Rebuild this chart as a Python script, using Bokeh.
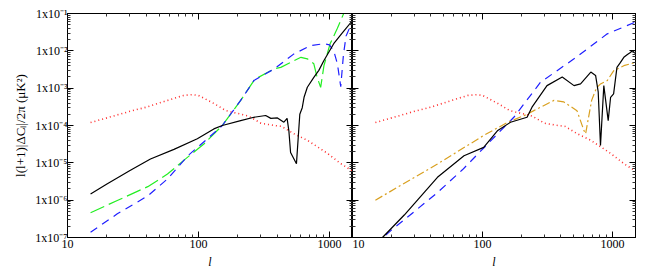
from bokeh.plotting import figure
from bokeh.layouts import row
from bokeh.models import LogAxis, FixedTicker, CustomJSTickFormatter, BasicTickFormatter, Range1d
from bokeh.embed import file_html
from bokeh.resources import INLINE

# ---------------- data ----------------
X_RANGE = (10, 1500)
Y_RANGE = (1e-7, 1e-1)
x_major = [10, 100, 1000]
x_minor = [m * 10 ** k for k in (1, 2, 3) for m in range(2, 10)]
y_major = [1e-7, 1e-6, 1e-5, 1e-4, 1e-3, 1e-2, 1e-1]
y_minor = [m * 10.0 ** k for k in range(-8, 0) for m in range(2, 10)]

x_title = "l"
y_title = "l(l+1)|ΔCₗ|/2π (μK²)"

# red dotted (both panels)
ell_red = [15, 20, 30, 40, 58, 77, 90, 100, 131, 162, 240, 300, 380, 430, 536, 680, 964, 1222, 1500]
val_red = [1.2e-4, 1.6e-4, 2.4e-4, 3.1e-4, 4.7e-4, 6.4e-4, 6.7e-4, 6.4e-4, 3.9e-4, 2.5e-4,
           1.8e-4, 1.15e-4, 1.0e-4, 9.5e-5, 6e-5, 4e-5, 1.8e-5, 9.5e-6, 6e-6]

# left panel
ell_black_l = [15, 20, 30, 43, 65, 98, 131, 152, 210, 265, 326, 357, 401, 449, 475, 490, 505, 560,
               594, 620, 640, 678, 760, 830, 908, 1078, 1250, 1500]
val_black_l = [1.47e-6, 2.7e-6, 6.2e-6, 1.27e-5, 2.3e-5, 4.4e-5, 8.1e-5, 1.0e-4, 1.35e-4, 1.66e-4,
               1.85e-4, 1.55e-4, 1.6e-4, 1.23e-4, 1.55e-4, 7.2e-5, 1.9e-5, 9.5e-6,
               2.0e-4, 3.0e-4, 5.7e-4, 1.06e-3, 1.95e-3, 3.0e-3, 5.5e-3, 1.55e-2, 3.0e-2, 6.5e-2]

ell_green_l = [15, 24, 41, 58, 78, 110, 152, 210, 265, 283, 380, 425, 540, 606, 678, 760, 805, 857,
               908, 1012, 1150, 1285]
val_green_l = [4.6e-7, 9.8e-7, 2.3e-6, 5e-6, 1.2e-5, 3.2e-5, 1e-4, 4.7e-4, 1.6e-3, 1.9e-3, 3.3e-3,
               3.6e-3, 5.5e-3, 6.7e-3, 6.1e-3, 4.5e-3, 1.95e-3, 1.05e-3, 4.0e-3, 1.55e-2, 4e-2, 1e-1]

ell_blue_l = [15, 24, 41, 58, 83, 117, 152, 210, 265, 380, 536, 720, 908, 1000, 1078, 1150, 1220,
              1280, 1340, 1420, 1500]
val_blue_l = [1.38e-7, 4.3e-7, 1.3e-6, 3.7e-6, 1.55e-5, 4.4e-5, 1e-4, 4.7e-4, 1.6e-3, 3.3e-3,
              8.3e-3, 1.38e-2, 1.55e-2, 1.45e-2, 1.0e-2, 4.5e-3, 1.1e-3, 8e-3, 2.5e-2, 4e-2, 5.3e-2]

# right panel
ell_blue_r = [15, 20, 30, 45, 70, 102, 174, 279, 505, 910, 1500]
val_blue_r = [6.5e-8, 1.6e-7, 5e-7, 1.6e-6, 6.5e-6, 2.5e-5, 1.66e-4, 1.44e-3, 6.1e-3, 2.85e-2, 5.9e-2]

ell_black_r = [15, 17, 25, 45, 72, 102, 130, 164, 220, 240, 313, 410, 505, 567, 680, 740, 775, 807,
               856, 925, 965, 1018, 1080, 1150, 1220, 1300, 1370, 1420, 1500]
val_black_r = [6.2e-8, 1e-7, 4e-7, 4.1e-6, 1.55e-5, 2.6e-5, 7.2e-5, 1.22e-4, 1.66e-4, 3.1e-4,
               1.17e-3, 2.0e-3, 1.17e-3, 1.3e-3, 2.7e-3, 2.2e-3, 8e-4, 2.9e-5, 1.17e-3, 1.35e-4,
               5.7e-4, 7e-4, 3.6e-3, 4.9e-3, 6.7e-3, 8e-3, 9e-3, 1.0e-2, 8.5e-3]

ell_orange_r = [15, 45, 102, 155, 220, 248, 354, 420, 532, 603, 620, 650, 690, 750, 807, 910, 1018,
                1220, 1500]
val_orange_r = [1.0e-6, 9.3e-6, 5.4e-5, 1.2e-4, 2.0e-4, 2.5e-4, 4.7e-4, 4.3e-4, 2.5e-4, 7.2e-5,
                6e-5, 1.5e-4, 4.7e-4, 1e-3, 1.3e-3, 1.6e-3, 2.9e-3, 4.0e-3, 4.9e-3]

# ---------------- styling ----------------
FONT = "Liberation Serif"
FS = "12px"
RED, BLUE, GREEN, ORANGE = "#ff2a2a", "#1f1fff", "#22ee22", "#d9a020"

SUP_JS = """
const e = Math.round(Math.log10(tick));
const m = {'-':'\u207b','0':'\u2070','1':'\u00b9','2':'\u00b2','3':'\u00b3','4':'\u2074',
           '5':'\u2075','6':'\u2076','7':'\u2077','8':'\u2078','9':'\u2079'};
return '1x10' + String(e).split('').map(c => m[c]).join('');
"""


def style(ax, major, minor, show_labels, formatter=None):
    ax.ticker = FixedTicker(ticks=major, minor_ticks=minor)
    ax.major_tick_in = 6
    ax.major_tick_out = 0
    ax.minor_tick_in = 3
    ax.minor_tick_out = 0
    ax.axis_line_color = "black"
    ax.major_tick_line_color = "black"
    ax.minor_tick_line_color = "#333333"
    ax.major_label_text_font = FONT
    ax.major_label_text_color = "black"
    ax.axis_label_text_font = FONT
    ax.axis_label_text_font_size = FS
    ax.axis_label_text_color = "black"
    if show_labels:
        ax.major_label_text_font_size = FS
        ax.major_label_standoff = 0
        if formatter is not None:
            ax.formatter = formatter
    else:
        ax.major_label_text_font_size = "0px"
        ax.major_label_standoff = 0
        ax.formatter = CustomJSTickFormatter(code="return '';")


def make_fig(left, right, fw):
    p = figure(frame_width=fw, frame_height=224,
               x_axis_type="log", y_axis_type="log",
               x_range=Range1d(*X_RANGE), y_range=Range1d(*Y_RANGE),
               min_border_left=left, min_border_right=right, min_border_top=13, min_border_bottom=30,
               output_backend="svg", toolbar_location=None)
    p.xgrid.visible = False
    p.ygrid.visible = False
    p.outline_line_color = "black"
    p.background_fill_color = "white"
    p.border_fill_color = "white"
    style(p.xaxis[0], x_major, x_minor, True, BasicTickFormatter())
    p.xaxis[0].major_label_standoff = 2
    p.xaxis[0].axis_label = x_title
    p.xaxis[0].axis_label_text_font_style = "italic"
    p.xaxis[0].axis_label_standoff = 4
    top = LogAxis()
    style(top, x_major, x_minor, False)
    p.add_layout(top, "above")
    rgt = LogAxis()
    style(rgt, y_major, y_minor, False)
    p.add_layout(rgt, "right")
    return p


p1 = make_fig(67, 0, 285)
style(p1.yaxis[0], y_major, y_minor, True, CustomJSTickFormatter(code=SUP_JS))
p1.yaxis[0].axis_label = y_title
p1.yaxis[0].axis_label_text_font_style = "normal"
p1.yaxis[0].axis_label_text_font_size = "13px"
p1.yaxis[0].axis_label_standoff = 4

p2 = make_fig(0, 25, 283)
style(p2.yaxis[0], y_major, y_minor, False)

# left panel lines
p1.line(ell_red, val_red, line_color=RED, line_width=1.6, line_dash="1 3")
p1.line(ell_green_l, val_green_l, line_color=GREEN, line_width=1.2, line_dash="15 5")
p1.line(ell_blue_l, val_blue_l, line_color=BLUE, line_width=1.2, line_dash="8 6")
p1.line(ell_black_l, val_black_l, line_color="black", line_width=1.2)

# right panel lines
p2.line(ell_red, val_red, line_color=RED, line_width=1.6, line_dash="1 3")
p2.line(ell_blue_r, val_blue_r, line_color=BLUE, line_width=1.2, line_dash="8 6")
p2.line(ell_orange_r, val_orange_r, line_color=ORANGE, line_width=1.2, line_dash="8 3 2 3")
p2.line(ell_black_r, val_black_r, line_color="black", line_width=1.2)

layout = row(p1, p2)
open("out.html", "w").write(file_html(layout, INLINE))
